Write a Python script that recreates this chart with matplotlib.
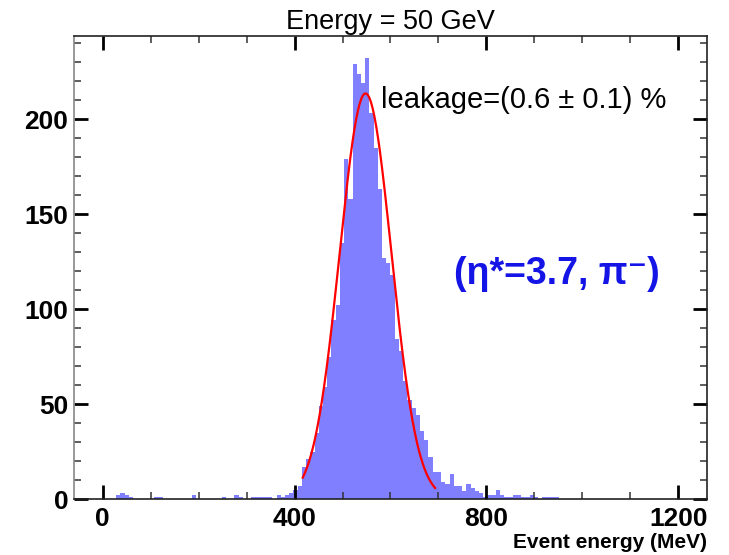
import numpy as np
import matplotlib
matplotlib.use("Agg")
import matplotlib.pyplot as plt
from matplotlib.ticker import MultipleLocator

plt.rcParams['font.family'] = ['Liberation Sans', 'DejaVu Sans']

# histogram binning (MeV)
hist_lo = -60.0
hist_hi = 1260.0
bin_width = 8.8

# left edge of every non-empty bin and its number of events
bin_left = [28.0, 36.8, 45.6, 54.4, 107.2, 116.0, 186.4, 248.0, 274.4, 283.2,
            309.6, 318.4, 327.2, 336.0, 344.8, 362.4, 371.2, 380.0, 388.8, 397.6,
            406.4, 415.2, 424.0, 432.8, 441.6, 450.4, 459.2, 468.0, 476.8, 485.6,
            494.4, 503.2, 512.0, 520.8, 529.6, 538.4, 547.2, 556.0, 564.8, 573.6,
            582.4, 591.2, 600.0, 608.8, 617.6, 626.4, 635.2, 644.0, 652.8, 661.6,
            670.4, 679.2, 688.0, 696.8, 705.6, 714.4, 723.2, 732.0, 740.8, 749.6,
            758.4, 767.2, 776.0, 784.8, 793.6, 802.4, 811.2, 820.0, 828.8, 837.6,
            846.4, 855.2, 864.0, 872.8, 881.6, 890.4, 899.2, 916.8, 925.6, 934.4,
            943.2]
entries = [2, 3, 2, 1, 1, 1, 2, 1, 2, 1,
           1, 1, 1, 1, 1, 2, 1, 2, 3, 5,
           7, 17, 21, 25, 35, 49, 59, 75, 94, 102,
           135, 179, 158, 229, 224, 219, 232, 203, 185, 163,
           127, 124, 118, 84, 78, 62, 52, 48, 44, 36,
           31, 22, 14, 14, 9, 8, 13, 7, 7, 4,
           8, 6, 4, 3, 1, 2, 2, 5, 2, 1,
           1, 2, 2, 1, 1, 2, 1, 1, 1, 1,
           1]

# gaussian fit drawn over the peak
fit_amp = 213.5
fit_mean = 548.0
fit_sigma = 54.0
fit_range = (417.0, 693.0)

fig = plt.figure(figsize=(7.29, 5.55), dpi=100)
ax = fig.add_axes([0.1015, 0.1009, 0.8683, 0.8351])

edges = np.arange(hist_lo, hist_hi + bin_width / 2, bin_width)
centers = np.array(bin_left) + bin_width / 2
ax.hist(centers, bins=edges, weights=entries, histtype='stepfilled',
        color='#7f7fff', linewidth=0)

xf = np.linspace(fit_range[0], fit_range[1], 300)
ax.plot(xf, fit_amp * np.exp(-0.5 * ((xf - fit_mean) / fit_sigma) ** 2),
        color='red', lw=1.6)

ax.set_xlim(hist_lo, hist_hi)
ax.set_ylim(0, 244)
ax.xaxis.set_major_locator(MultipleLocator(400))
ax.xaxis.set_minor_locator(MultipleLocator(100))
ax.yaxis.set_major_locator(MultipleLocator(50))
ax.yaxis.set_minor_locator(MultipleLocator(10))
ax.tick_params(which='both', direction='in', top=True, right=True)
ax.tick_params(which='major', length=10, width=2, labelsize=19, color='black')
ax.tick_params(which='minor', length=5, width=1.1, color='#333333')
ax.tick_params(axis='x', which='major', pad=6)
ax.tick_params(axis='y', which='major', pad=4)
for lab in ax.get_xticklabels() + ax.get_yticklabels():
    lab.set_fontweight('bold')

for s in ['top', 'right', 'bottom']:
    ax.spines[s].set_linewidth(1.2)
    ax.spines[s].set_color('#222222')
ax.spines['left'].set_linewidth(1.2)
ax.spines['left'].set_color('#888888')

ax.set_title('Energy = 50 GeV', fontsize=19.5, pad=4.7)
ax.text(580, 206, 'leakage=(0.6 \u00b1 0.1) %', fontsize=21, va='baseline')
ax.text(732, 113, '(\u03b7*=3.7, \u03c0\u207b)', fontsize=27, fontweight='bold',
        color='#1414e6', va='baseline')
ax.text(1.0, -0.1057, 'Event energy (MeV)', transform=ax.transAxes,
        ha='right', va='baseline', fontsize=15, fontweight='bold')

fig.savefig('out.png', dpi=100)
